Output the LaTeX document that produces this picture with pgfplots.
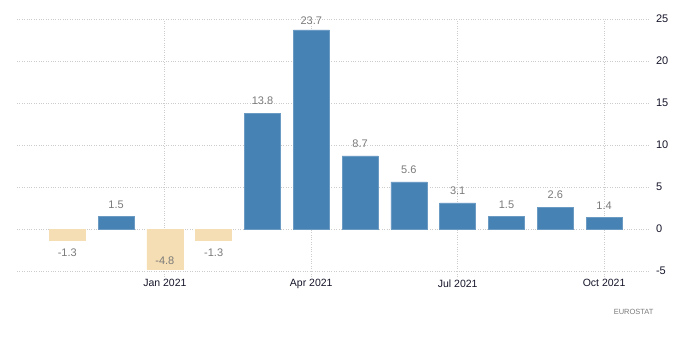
\documentclass[border=0pt]{standalone}
\usepackage{fontspec}
\setmainfont{Liberation Sans}
\usepackage{pgfplots}
\pgfplotsset{compat=1.18}
\definecolor{bblue}{HTML}{4682B4}
\definecolor{wheatc}{HTML}{F5DEB3}
\definecolor{lblgray}{HTML}{7A7A7A}
\definecolor{tickc}{HTML}{15152A}
\definecolor{gridc}{HTML}{CCCCCC}
\begin{document}
\begin{tikzpicture}[x=1pt,y=1pt]
\begin{axis}[
  at={(17pt,88pt)}, anchor=south west,
  scale only axis, width=632pt, height=252pt,
  xmin=-1.03, xmax=11.92, ymin=-5, ymax=25,
  clip=false,
  axis line style={draw=none},
  xtick={2,5,8,11},
  xticklabels={Jan 2021,Apr 2021,Jul 2021,Oct 2021},
  ytick={-5,0,5,10,15,20,25},
  yticklabel pos=right,
  xtick pos=bottom,
  grid=major,
  grid style={gridc, dotted, line width=0.8pt},
  tick align=outside,
  major tick length=5pt,
  xtick style={gridc, dotted, line width=0.8pt},
  ytick style={draw=none},
  /pgf/number format/assume math mode=true,
  yticklabel style={font=\fontsize{11}{13}\selectfont, text=tickc, anchor=west, xshift=-1.5pt},
  xticklabel style={font=\fontsize{10.5}{12}\selectfont, text=tickc, yshift=0pt},
]
\addplot[ybar, bar width=36pt, bar shift=0pt, fill=bblue, draw=bblue!80!white, line width=0.4pt]
  coordinates {(1,1.5) (4,13.8) (5,23.7) (6,8.7) (7,5.6) (8,3.1) (9,1.5) (10,2.6) (11,1.4)};
\addplot[ybar, bar width=36pt, bar shift=0pt, fill=wheatc, draw=wheatc]
  coordinates {(0,-1.3) (2,-4.8) (3,-1.3)};
\addplot[draw=none, nodes near coords, point meta=explicit symbolic,
  nodes near coords style={anchor=center, font=\fontsize{11}{13}\selectfont, text=lblgray}]
  coordinates {(0,-2.86)[-1.3] (1,2.93)[1.5] (2,-3.8)[-4.8] (3,-2.86)[-1.3]
    (4,15.23)[13.8] (5,24.76)[23.7] (6,10.13)[8.7] (7,7.03)[5.6] (8,4.53)[3.1]
    (9,2.93)[1.5] (10,4.03)[2.6] (11,2.83)[1.4]};
\end{axis}
\node[anchor=east, font=\fontsize{7.5}{9}\selectfont, text=lblgray] at (657,47) {EUROSTAT};
\pgfresetboundingbox
\useasboundingbox (0,0) rectangle (700,359);
\end{tikzpicture}
\end{document}
